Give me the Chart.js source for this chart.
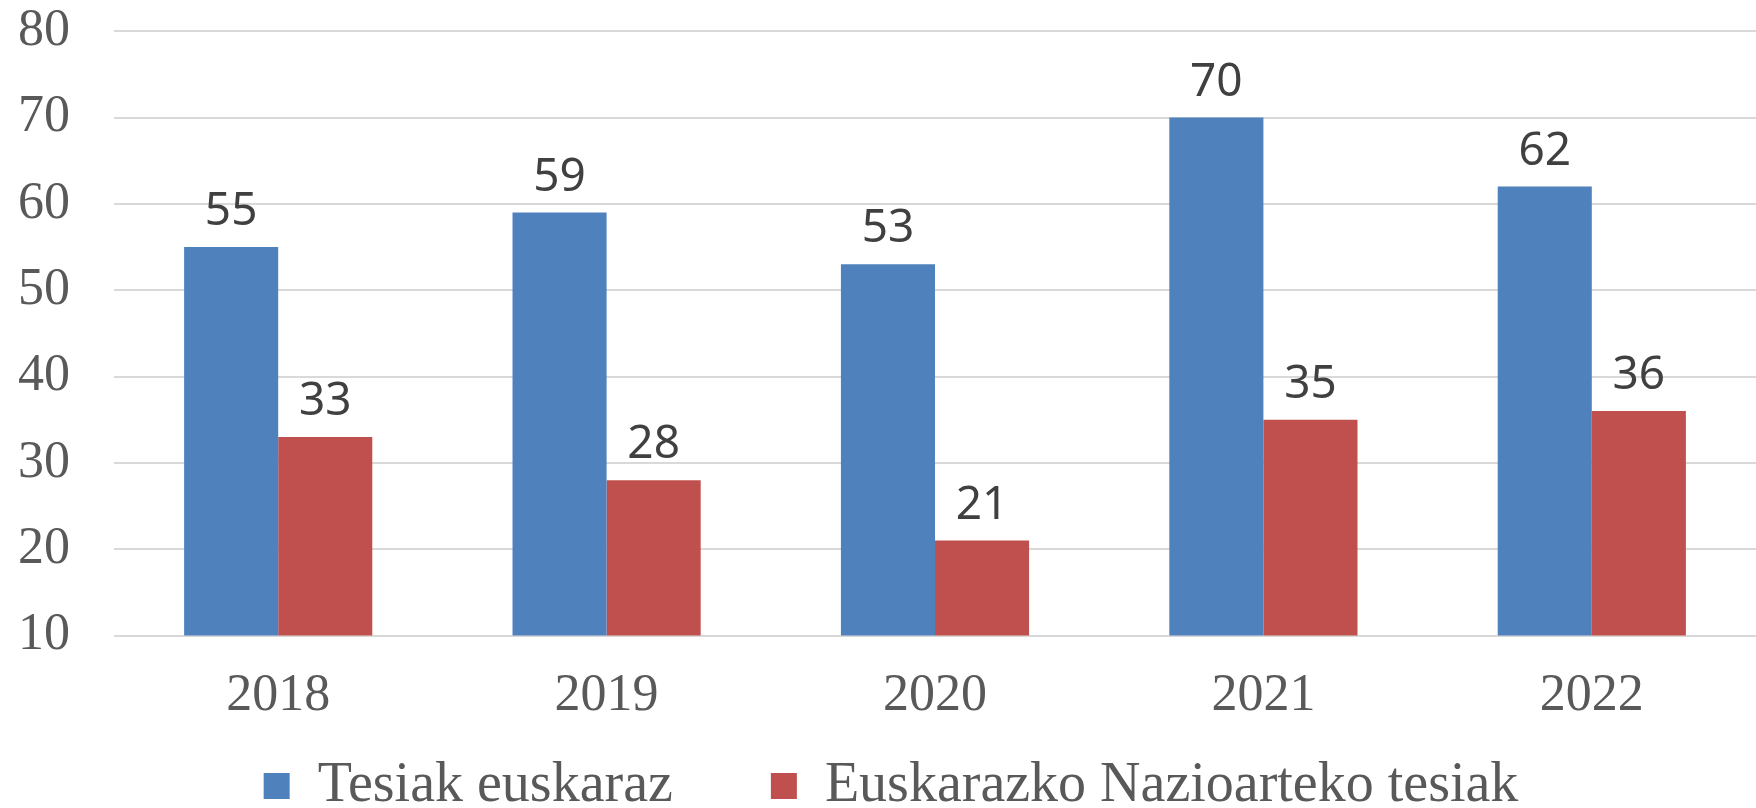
<!DOCTYPE html>
<html>
<head>
<meta charset="utf-8">
<script src="https://cdn.jsdelivr.net/npm/chart.js@4.4.1/dist/chart.umd.min.js"></script>
<style>
	html, body { margin: 0; padding: 0; background: #fff; }
	#wrap { width: 1756px; height: 808px; position: relative; }
</style>
</head>
<body>
<div id="wrap"><canvas id="chart"></canvas></div>
<script>
const years = ['2018', '2019', '2020', '2021', '2022'];
const tesiakEuskaraz = [55, 59, 53, 70, 62];
const nazioartekoTesiak = [33, 28, 21, 35, 36];
const seriesNames = ['Tesiak euskaraz', 'Euskarazko Nazioarteko tesiak'];
const yTicks = [10, 20, 30, 40, 50, 60, 70, 80];

// etiketak barren gainean
const valueLabels = {
	id: 'valueLabels',
	afterDatasetsDraw(chart) {
		let ctx = chart.ctx;
		ctx.save();
		ctx.font = '46px "Noto Sans"';
		ctx.fillStyle = '#404040';
		ctx.textAlign = 'center';
		ctx.textBaseline = 'alphabetic';
		chart.data.datasets.forEach((ds, i) => {
			let meta = chart.getDatasetMeta(i);
			meta.data.forEach((bar, j) => {
				ctx.fillText(ds.data[j], bar.x, bar.y - 22);
			});
		});
		ctx.restore();
	}
};

new Chart(document.getElementById('chart'), {
	type: 'bar',
	data: {
		labels: years,
		datasets: [
			{ label: seriesNames[0], data: tesiakEuskaraz, backgroundColor: '#4F81BD' },
			{ label: seriesNames[1], data: nazioartekoTesiak, backgroundColor: '#C0504D' }
		]
	},
	options: {
		responsive: true,
		maintainAspectRatio: false,
		devicePixelRatio: 1,
		animation: false,
		layout: { padding: { left: 18, right: -8, top: 0, bottom: -16 } },
		datasets: { bar: { categoryPercentage: 0.573, barPercentage: 1 } },
		scales: {
			x: {
				grid: { display: false, drawTicks: false },
				border: { display: false },
				ticks: {
					color: '#595959',
					font: { family: '"Liberation Serif"', size: 52 },
					padding: 30
				}
			},
			y: {
				min: 10,
				max: 80,
				afterBuildTicks(axis) { axis.ticks = yTicks.map(v => ({ value: v })); },
				afterFit(axis) { axis.width = 96; },
				grid: { color: '#d9d9d9', lineWidth: 2, drawTicks: false },
				border: { display: false },
				ticks: {
					color: '#595959',
					font: { family: '"Liberation Serif"', size: 52 },
					padding: 0,
					crossAlign: 'far'
				}
			}
		},
		plugins: {
			tooltip: { enabled: false },
			legend: {
				position: 'bottom',
				labels: {
					color: '#595959',
					font: { family: '"Liberation Serif"', size: 56 },
					boxWidth: 26,
					boxHeight: 26,
					padding: 0,
					generateLabels(chart) {
						let items = Chart.defaults.plugins.legend.labels.generateLabels(chart);
						items[0].text = items[0].text + '       ';
						return items;
					}
				}
			}
		}
	},
	plugins: [valueLabels]
});
</script>
</body>
</html>
